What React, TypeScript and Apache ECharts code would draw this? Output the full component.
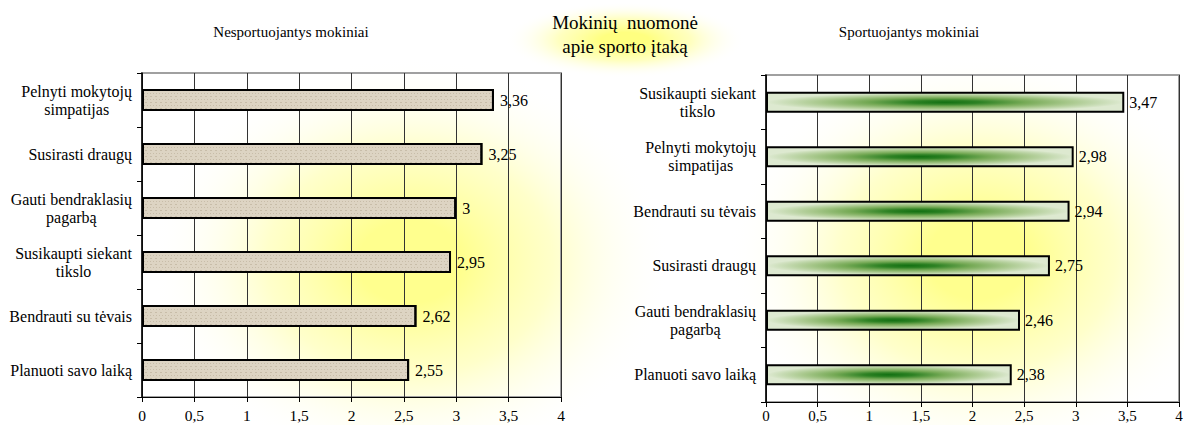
import { useEffect, useRef } from 'react';
import * as echarts from 'echarts';

const leftTitle = 'Nesportuojantys mokiniai';
const rightTitle = 'Sportuojantys mokiniai';
const mainTitle = ['Mokinių  nuomonė', 'apie sporto įtaką'];

const leftCategories = [
  'Pelnyti mokytojų\nsimpatijas',
  'Susirasti draugų',
  'Gauti bendraklasių\npagarbą',
  'Susikaupti siekant\ntikslo',
  'Bendrauti su tėvais',
  'Planuoti savo laiką',
];
const leftValues = [3.36, 3.25, 3, 2.95, 2.62, 2.55];

const rightCategories = [
  'Susikaupti siekant\ntikslo',
  'Pelnyti mokytojų\nsimpatijas',
  'Bendrauti su tėvais',
  'Susirasti draugų',
  'Gauti bendraklasių\npagarbą',
  'Planuoti savo laiką',
];
const rightValues = [3.47, 2.98, 2.94, 2.75, 2.46, 2.38];

const axisMin = 0;
const axisMax = 4;
const axisStep = 0.5;

const FONT = 'Liberation Serif';
const comma = (v: number | string) => String(v).replace('.', ',');

const glow = (cx: number, cy: number, rx: number, ry: number, color: string, mid: string) => ({
  type: 'rect',
  silent: true,
  z: -10,
  shape: { x: cx - rx, y: cy - ry, width: rx * 2, height: ry * 2 },
  style: {
    fill: {
      type: 'radial',
      x: 0.5,
      y: 0.5,
      r: 0.5,
      colorStops: [
        { offset: 0, color: color },
        { offset: 0.2, color: color },
        { offset: 0.55, color: mid },
        { offset: 1, color: 'rgba(255,255,255,0)' },
      ],
    },
  },
});

function makeAxes(gridIndex: number, categories: string[], labelMargin: number, labelSize: number) {
  const xAxis = {
    type: 'value',
    gridIndex,
    min: axisMin,
    max: axisMax,
    interval: axisStep,
    axisLine: { show: true, lineStyle: { color: '#000', width: 1 } },
    axisTick: { show: true, length: 5, lineStyle: { color: '#000' } },
    axisLabel: {
      fontFamily: FONT,
      fontSize: labelSize,
      lineHeight: labelSize + 1,
      color: '#000',
      margin: labelMargin,
      formatter: (v: number) => comma(v),
    },
    splitLine: { show: true, lineStyle: { color: '#333', width: 1 } },
  };
  const yAxis = {
    type: 'category',
    gridIndex,
    inverse: true,
    data: categories,
    axisLine: { show: true, lineStyle: { color: '#000', width: 1.5 } },
    axisTick: { show: true, length: 5, lineStyle: { color: '#000' } },
    axisLabel: {
      margin: 10,
      fontFamily: FONT,
      fontSize: 16,
      formatter: (v: string) => v.split('\n').map((l) => `{c|${l}}`).join('\n'),
      rich: {
        c: { align: 'center', fontFamily: FONT, fontSize: 16, color: '#000', lineHeight: 18 },
      },
    },
    splitLine: { show: false },
  };
  return { xAxis, yAxis };
}

export default function App() {
  const ref = useRef<HTMLDivElement>(null);
  useEffect(() => {
    document.body.style.margin = '0';
    document.body.style.overflow = 'hidden';
    const chart = echarts.init(ref.current!, null, { renderer: 'svg' });
    const a0 = makeAxes(0, leftCategories, 10, 15.5);
    const a1 = makeAxes(1, rightCategories, 6, 15);

    chart.setOption({
      animation: false,
      backgroundColor: '#fff',
      grid: [
        {
          left: 142, top: 73, width: 419, height: 324, show: true,
          borderColor: '#a0a0a0', borderWidth: 2, backgroundColor: 'transparent',
          outerBoundsMode: 'none', containLabel: false,
        },
        {
          left: 766, top: 75, width: 413, height: 327, show: true,
          borderColor: '#a0a0a0', borderWidth: 2, backgroundColor: 'transparent',
          outerBoundsMode: 'none', containLabel: false,
        },
      ],
      xAxis: [a0.xAxis, a1.xAxis],
      yAxis: [a0.yAxis, a1.yAxis],
      graphic: [
        glow(410, 262, 260, 205, '#ffff8e', 'rgba(255,255,180,0.7)'),
        glow(978, 258, 250, 205, '#ffff8e', 'rgba(255,255,180,0.7)'),
        glow(625, 40, 120, 38, '#ffff80', 'rgba(255,255,170,0.75)'),
        {
          type: 'text',
          silent: true,
          x: 291,
          y: 32,
          style: { text: leftTitle, fontFamily: FONT, fontSize: 15, fill: '#000', align: 'center', verticalAlign: 'middle' },
        },
        {
          type: 'text',
          silent: true,
          x: 909,
          y: 32,
          style: { text: rightTitle, fontFamily: FONT, fontSize: 15, fill: '#000', align: 'center', verticalAlign: 'middle' },
        },
        {
          type: 'text',
          silent: true,
          x: 625,
          y: 34,
          style: {
            text: mainTitle.join('\n'),
            fontFamily: FONT,
            fontSize: 19,
            lineHeight: 24,
            fill: '#000',
            align: 'center',
            verticalAlign: 'middle',
          },
        },
      ],
      series: [
        {
          type: 'bar',
          xAxisIndex: 0,
          yAxisIndex: 0,
          data: leftValues,
          barWidth: 22,
          itemStyle: {
            color: '#ddd4c3',
            borderColor: '#000',
            borderWidth: 2,
            decal: {
              symbol: 'rect',
              symbolSize: 1,
              color: 'rgba(160,145,120,0.35)',
              dashArrayX: [[1, 2], [2, 3]],
              dashArrayY: [1, 2],
              rotation: 0,
            },
          },
          label: {
            show: true,
            position: 'right',
            distance: 6,
            fontFamily: FONT,
            fontSize: 16,
            color: '#000',
            formatter: (p: any) => comma(p.value),
          },
        },
        {
          type: 'bar',
          xAxisIndex: 1,
          yAxisIndex: 1,
          data: rightValues,
          barWidth: 21,
          itemStyle: {
            color: {
              type: 'radial',
              x: 0.5,
              y: 0.5,
              r: 0.5,
              colorStops: [
                { offset: 0, color: '#127012' },
                { offset: 0.2, color: '#2e8224' },
                { offset: 0.45, color: '#76aa56' },
                { offset: 0.7, color: '#a8c88c' },
                { offset: 1, color: '#dde9d0' },
              ],
            },
            borderColor: '#000',
            borderWidth: 2,
          },
          label: {
            show: true,
            position: 'right',
            distance: 5,
            fontFamily: FONT,
            fontSize: 16,
            color: '#000',
            formatter: (p: any) => comma(p.value),
          },
        },
      ],
    });
    return () => chart.dispose();
  }, []);
  return <div ref={ref} style={{ width: 1184, height: 425 }} />;
}
